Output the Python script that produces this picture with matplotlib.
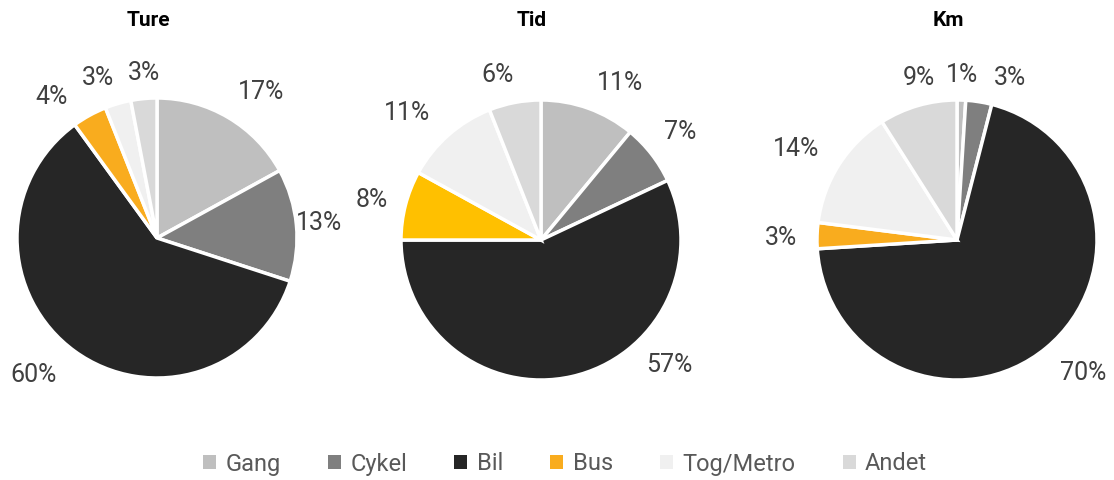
import numpy as np
import matplotlib.pyplot as plt
from matplotlib.patches import Patch

plt.rcParams['font.family'] = ['Roboto', 'DejaVu Sans']

modes = ['Gang', 'Cykel', 'Bil', 'Bus', 'Tog/Metro', 'Andet']
titles = ['Ture', 'Tid', 'Km']
ture = [17, 13, 60, 4, 3, 3]
tid = [11, 7, 57, 8, 11, 6]
km = [1, 3, 70, 3, 14, 9]

colors = ['#BFBFBF', '#7F7F7F', '#262626', '#F9AC1E', '#F0F0F0', '#D9D9D9']
colors_tid = ['#BFBFBF', '#7F7F7F', '#262626', '#FFC000', '#F0F0F0', '#D9D9D9']

# label placement (best-fit style): radius in pie radii and angle shift in degrees
label_r = [[1.28, 1.16, 1.32, 1.26, 1.22, 1.18],
           [1.26, 1.26, 1.28, 1.24, 1.32, 1.22],
           [1.18, 1.22, 1.31, 1.26, 1.32, 1.19]]
label_shift = [[-5, 0, -6, 8, 4, -1],
               [-7, 0, 33, 1, 5, 4],
               [0, -9, 4, 1, 3, -3]]

W, H = 1114, 480
fig = plt.figure(figsize=(W / 100, H / 100), dpi=100)

# pie centres and radius in pixels
centres = [(157, 238), (541, 240), (957, 240)]
R = 140

for i, ((cx, cy), title, vals, cols) in enumerate(zip(centres, titles, [ture, tid, km],
                                                      [colors, colors_tid, colors])):
    ax = fig.add_axes([(cx - R) / W, 1 - (cy + R) / H, 2 * R / W, 2 * R / H])
    wedges, _ = ax.pie(vals, colors=cols, startangle=90, counterclock=False,
                       wedgeprops=dict(edgecolor='white', linewidth=2.5))
    for w, v, r, s in zip(wedges, vals, label_r[i], label_shift[i]):
        ang = np.deg2rad((w.theta1 + w.theta2) / 2 + s)
        ax.text(r * np.cos(ang), r * np.sin(ang), f'{v}%', ha='center', va='center',
                fontsize=18, color='#404040')
    ax.set_xlim(-1, 1)
    ax.set_ylim(-1, 1)
    ax.set_aspect('equal')
    fig.text((cx - 9) / W, 1 - 21 / H, title, ha='center', va='center',
             fontsize=15, fontweight='bold', color='black')

handles = [Patch(facecolor=c, edgecolor='none') for c in colors]
fig.legend(handles, modes, loc='center', bbox_to_anchor=(565 / W, 1 - 464 / H),
           ncol=6, frameon=False, fontsize=17, labelcolor='#595959',
           handlelength=0.55, handleheight=0.55, handletextpad=0.4,
           columnspacing=2.0)

fig.savefig('out.png', dpi=100, facecolor='white')
